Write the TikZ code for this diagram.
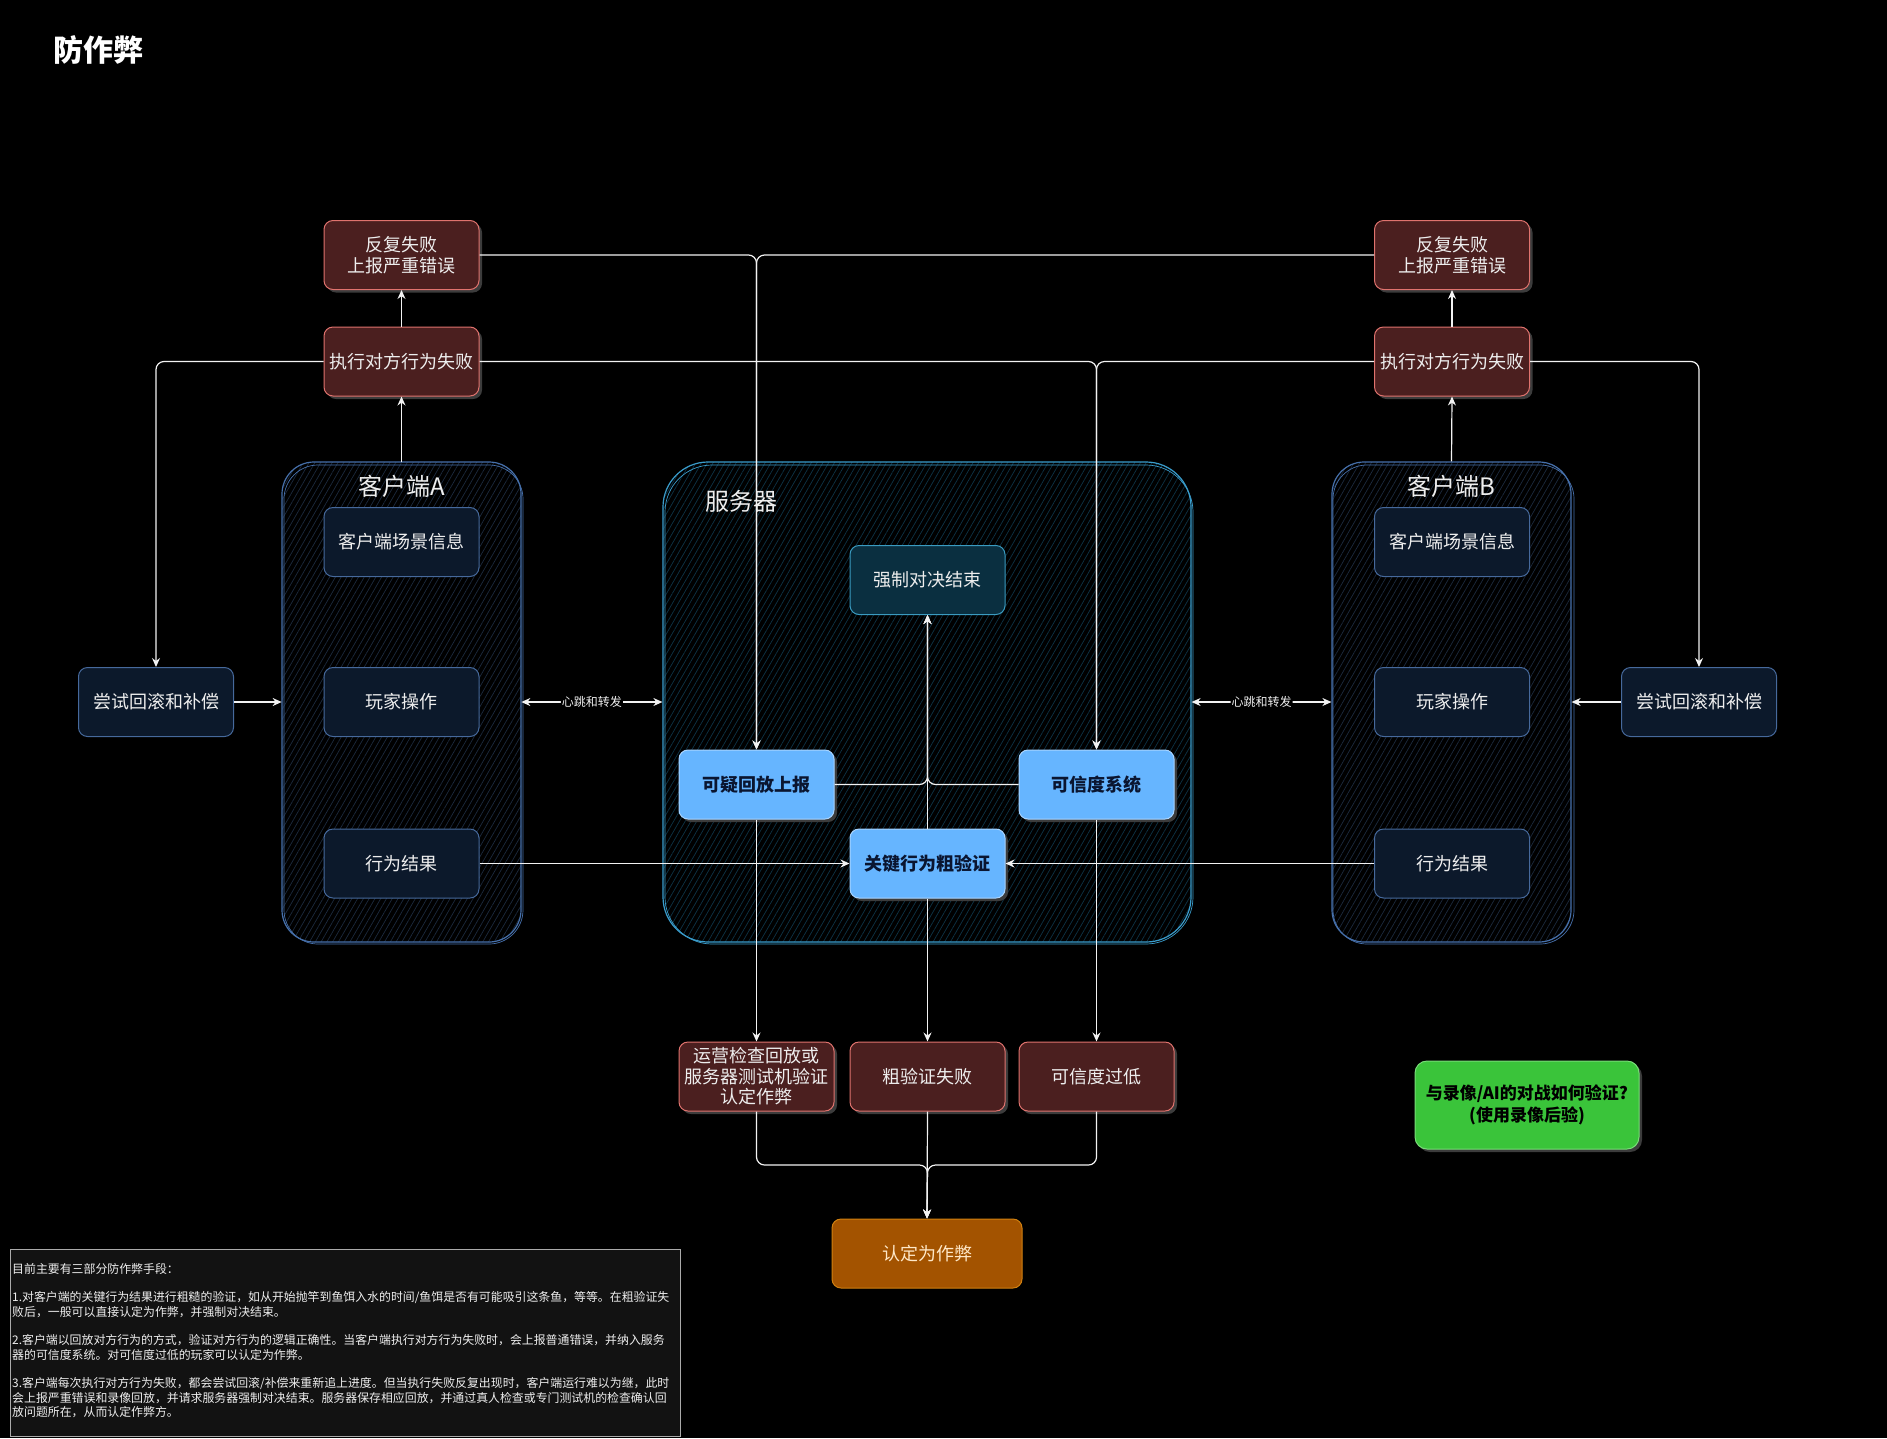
\documentclass[tikz,border=0pt]{standalone}
\usepackage{fontspec}
\setmainfont{Noto Sans CJK SC}
\usetikzlibrary{arrows.meta,shadows,patterns.meta,calc}
\definecolor{txt}{HTML}{EEEEEE}
\definecolor{redfill}{HTML}{4B1F1F}
\definecolor{redline}{HTML}{E0736E}
\definecolor{navyfill}{HTML}{0C192B}
\definecolor{navyline}{HTML}{46699C}
\definecolor{bluefill}{HTML}{66B5FF}
\definecolor{blueline}{HTML}{A8D4FF}
\definecolor{bluetext}{HTML}{0A1530}
\definecolor{forcefill}{HTML}{0A2F40}
\definecolor{forceline}{HTML}{3A9BC0}
\definecolor{cheatfill}{HTML}{A35300}
\definecolor{cheatline}{HTML}{D08010}
\definecolor{cheattext}{HTML}{FFE8C8}
\definecolor{greenfill}{HTML}{3AC43A}
\definecolor{greenline}{HTML}{78DC78}
\definecolor{shadowc}{HTML}{3C3C3C}
\definecolor{linec}{HTML}{F2F2F2}
\definecolor{clientline}{HTML}{4670AB}
\definecolor{clienthatch}{HTML}{1C2A3E}
\definecolor{serverline}{HTML}{3A9CCB}
\definecolor{serverhatch}{HTML}{0E3346}
\definecolor{notefill}{HTML}{121212}
\definecolor{noteline}{HTML}{AAAAAA}
\begin{document}
\begin{tikzpicture}[x=1pt,y=-1pt,
  box/.style={rounded corners=9pt, minimum width=155pt, minimum height=69pt, inner sep=2pt, align=center, font=\fontsize{18}{21}\selectfont, text=txt, line width=1pt},
  shad/.style={drop shadow={shadow xshift=3pt, shadow yshift=-3pt, fill=shadowc, opacity=1}},
  redbox/.style={box, shad, fill=redfill, draw=redline},
  navybox/.style={box, fill=navyfill, draw=navyline},
  bluebox/.style={box, shad, fill=bluefill, draw=blueline, text=bluetext, font=\fontsize{18}{21}\selectfont\bfseries},
  forcebox/.style={box, fill=forcefill, draw=forceline},
  cheatbox/.style={box, fill=cheatfill, draw=cheatline, text=cheattext, minimum width=190pt},
  greenbox/.style={box, shad, fill=greenfill, draw=greenline, text=black, font=\fontsize{17}{22}\selectfont\bfseries, minimum width=224pt, minimum height=88pt, rounded corners=12pt},
  clientc/.style={rounded corners=32pt, draw=clientline, line width=1.2pt, pattern={Lines[angle=60,distance=5pt,line width=0.7pt]}, pattern color=clienthatch, minimum width=239pt, minimum height=480pt, inner sep=0pt},
  serverc/.style={rounded corners=45pt, draw=serverline, line width=1.2pt, pattern={Lines[angle=60,distance=5pt,line width=0.7pt]}, pattern color=serverhatch, minimum width=528pt, minimum height=480pt, inner sep=0pt},
  ctitle/.style={font=\fontsize{24}{28}\selectfont, text=txt},
  conn/.style={draw=linec, line width=1.2pt, -{Stealth[length=9pt,width=8pt]}, rounded corners=8pt},
  plain/.style={draw=linec, line width=1.2pt, rounded corners=8pt},
  hb/.style={font=\fontsize{12}{14}\selectfont, text=txt, fill=black, inner sep=1pt}
]
\useasboundingbox[fill=black] (0,0) rectangle (1887,1438);

% title
\node[font=\fontsize{30}{34}\selectfont\bfseries, text=white, anchor=west, inner sep=0pt] (title) at (53,50) {防作弊};

% containers
\node[clientc] (cA) at (401.5,702) {};
\draw[clientline, line width=0.7pt, rounded corners=34pt] (284,465) rectangle (523,944);
\node[serverc] (srv) at (927,702) {};
\draw[serverline, line width=0.7pt, rounded corners=47pt] (665,465) rectangle (1193,944);
\node[clientc] (cB) at (1451.5,702) {};
\draw[clientline, line width=0.7pt, rounded corners=34pt] (1333,465) rectangle (1574,944);

\node[ctitle] (tcA) at (401.5,486) {客户端A};
\node[ctitle] (tsrv) at (741,501) {服务器};
\node[ctitle] (tcB) at (1451.5,486) {客户端B};

% client A
\node[redbox] (rA) at (401.5,255) {反复失败\\上报严重错误};
\node[redbox] (fA) at (401.5,361.5) {执行对方行为失败};
\node[navybox] (sA) at (401.5,542) {客户端场景信息};
\node[navybox] (pA) at (401.5,702) {玩家操作};
\node[navybox] (resA) at (401.5,863.5) {行为结果};
\node[navybox] (tA) at (156,702) {尝试回滚和补偿};

% client B
\node[redbox] (rB) at (1452,255) {反复失败\\上报严重错误};
\node[redbox] (fB) at (1452,361.5) {执行对方行为失败};
\node[navybox] (sB) at (1452,542) {客户端场景信息};
\node[navybox] (pB) at (1452,702) {玩家操作};
\node[navybox] (resB) at (1452,863.5) {行为结果};
\node[navybox] (tB) at (1699,702) {尝试回滚和补偿};

% server
\node[forcebox] (force) at (927.5,580) {强制对决结束};
\node[bluebox] (sus) at (756.5,784.5) {可疑回放上报};
\node[bluebox] (cred) at (1096.5,784.5) {可信度系统};
\node[bluebox] (key) at (927.5,863.5) {关键行为粗验证};

% bottom
\node[redbox, font=\fontsize{18}{20.5}\selectfont] (op) at (756.5,1076.5) {运营检查回放或\\服务器测试机验证\\认定作弊};
\node[redbox] (rf) at (927.5,1076.5) {粗验证失败};
\node[redbox] (low) at (1096.5,1076.5) {可信度过低};
\node[cheatbox] (cheat) at (927,1253.5) {认定为作弊};
\node[greenbox] (green) at (1527,1105) {与录像/AI的对战如何验证?\\(使用录像后验)};
\coordinate (jy) at (927.5,1165);

% notes
\node[draw=noteline, fill=notefill, line width=1pt, anchor=north west, minimum width=670pt, minimum height=187pt, inner sep=0pt] (notes) at (10,1249) {};
\node[anchor=north west, align=left, inner sep=0pt, text=txt, font=\fontsize{11.9}{14.5}\selectfont] (notetext) at (12,1263) {目前主要有三部分防作弊手段：\\[14pt]
1.对客户端的关键行为结果进行粗糙的验证，如从开始抛竿到鱼饵入水的时间/鱼饵是否有可能吸引这条鱼，等等。在粗验证失\\
败后，一般可以直接认定为作弊，并强制对决结束。\\[14pt]
2.客户端以回放对方行为的方式，验证对方行为的逻辑正确性。当客户端执行对方行为失败时，会上报普通错误，并纳入服务\\
器的可信度系统。对可信度过低的玩家可以认定为作弊。\\[14pt]
3.客户端每次执行对方行为失败，都会尝试回滚/补偿来重新追上进度。但当执行失败反复出现时，客户端运行难以为继，此时\\
会上报严重错误和录像回放，并请求服务器强制对决结束。服务器保存相应回放，并通过真人检查或专门测试机的检查确认回\\
放问题所在，从而认定作弊方。};

% connectors
\draw[conn] (cA.north) -- (fA.south);
\draw[conn] (fA.north) -- (rA.south);
\draw[conn] (cB.north) -- (fB.south);
\draw[conn] (fB.north) -- (rB.south);
\draw[conn] (rA.east) -| (sus.north);
\draw[conn] (rB.west) -| (sus.north);
\draw[conn] (fA.east) -| (cred.north);
\draw[conn] (fB.west) -| (cred.north);
\draw[conn] (fA.west) -| (tA.north);
\draw[conn] (fB.east) -| (tB.north);
\draw[conn] (tA.east) -- (cA.west);
\draw[conn] (tB.west) -- (cB.east);
\draw[conn, {Stealth[length=9pt,width=8pt]}-{Stealth[length=9pt,width=8pt]}] (cA.east) -- node[hb] {心跳和转发} (srv.west);
\draw[conn, {Stealth[length=9pt,width=8pt]}-{Stealth[length=9pt,width=8pt]}] (srv.east) -- node[hb] {心跳和转发} (cB.west);
\draw[conn] (resA.east) -- (key.west);
\draw[conn] (resB.west) -- (key.east);
\draw[conn] (key.north) -- (force.south);
\draw[conn] (sus.east) -| (force.south);
\draw[conn] (cred.west) -| (force.south);
\draw[conn] (sus.south) -- (op.north);
\draw[conn] (key.south) -- (rf.north);
\draw[conn] (cred.south) -- (low.north);
\draw[conn] (op.south) |- (jy) -- (cheat.north);
\draw[conn] (rf.south) -- (cheat.north);
\draw[conn] (low.south) |- (jy) -- (cheat.north);
\end{tikzpicture}
\end{document}
